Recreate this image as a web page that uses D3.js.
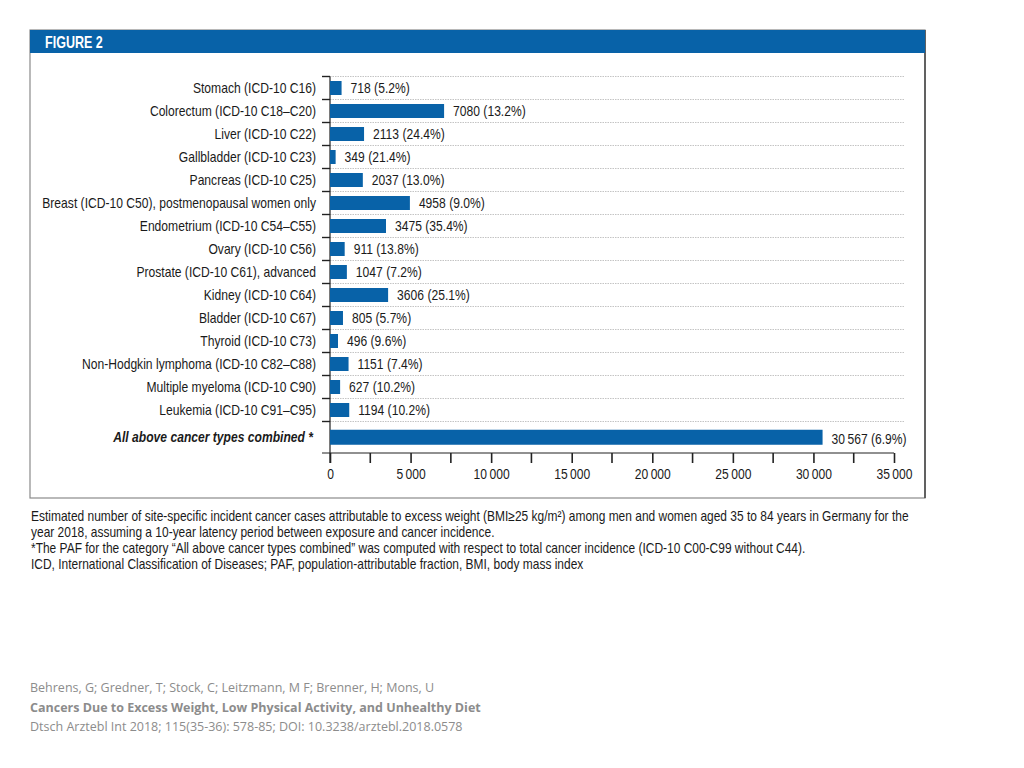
<!DOCTYPE html>
<html>
<head>
<meta charset="utf-8">
<script src="https://cdn.jsdelivr.net/npm/d3@7"></script>
<style>
  html, body { margin: 0; padding: 0; background: #ffffff; }
  svg { display: block; }
</style>
</head>
<body>
<svg id="chart" width="1024" height="768"></svg>
<script>
// ---------------- DATA ----------------
const categories = [
  "Stomach (ICD-10 C16)",
  "Colorectum (ICD-10 C18\u2013C20)",
  "Liver (ICD-10 C22)",
  "Gallbladder (ICD-10 C23)",
  "Pancreas (ICD-10 C25)",
  "Breast (ICD-10 C50), postmenopausal women only",
  "Endometrium (ICD-10 C54\u2013C55)",
  "Ovary (ICD-10 C56)",
  "Prostate (ICD-10 C61), advanced",
  "Kidney (ICD-10 C64)",
  "Bladder (ICD-10 C67)",
  "Thyroid (ICD-10 C73)",
  "Non-Hodgkin lymphoma (ICD-10 C82\u2013C88)",
  "Multiple myeloma (ICD-10 C90)",
  "Leukemia (ICD-10 C91\u2013C95)"
];
const cases = [718, 7080, 2113, 349, 2037, 4958, 3475, 911, 1047, 3606, 805, 496, 1151, 627, 1194];
const paf = ["5.2%", "13.2%", "24.4%", "21.4%", "13.0%", "9.0%", "35.4%", "13.8%", "7.2%", "25.1%", "5.7%", "9.6%", "7.4%", "10.2%", "10.2%"];
const combinedLabel = "All above cancer types combined *";
const combinedCases = [30567];
const combinedPaf = ["6.9%"];
const xTicks = [0, 5000, 10000, 15000, 20000, 25000, 30000, 35000];
const xMinorTicks = [2500, 7500, 12500, 17500, 22500, 27500, 32500];
const figureTitle = "FIGURE 2";
const captionLines = [
  "Estimated number of site-specific incident cancer cases attributable to excess weight (BMI\u226525 kg/m\u00B2) among men and women aged 35 to 84 years in Germany for the",
  "year 2018, assuming a 10-year latency period between exposure and cancer incidence.",
  "*The PAF for the category \u201CAll above cancer types combined\u201D was computed with respect to total cancer incidence (ICD-10 C00-C99 without C44).",
  "ICD, International Classification of Diseases; PAF, population-attributable fraction, BMI, body mass index"
];
const sourceLines = [
  "Behrens, G; Gredner, T; Stock, C; Leitzmann, M F; Brenner, H; Mons, U",
  "Cancers Due to Excess Weight, Low Physical Activity, and Unhealthy Diet",
  "Dtsch Arztebl Int 2018; 115(35-36): 578-85; DOI: 10.3238/arztebl.2018.0578"
];

// ---------------- LAYOUT ----------------
const blue = "#0862a8";
const font = "'Liberation Sans', Arial, sans-serif";
const fs = 14;          // font size
const sx = 0.865;       // horizontal condensing to mimic a narrow face
const ink = "#1a1a1a";
const svg = d3.select("#chart");

const frame = { left: 30, right: 925, top: 30, headerH: 23, bottom: 498 };
const plot = { left: 330, right: 894, top: 76.5, rowsBottom: 421.5, axisY: 453 };

const fmtValue = v => {
  const s = String(v);
  return s.length > 4 ? s.slice(0, s.length - 3) + "\u2009" + s.slice(-3) : s;
};
const fmtAxis = v => {
  const s = String(v);
  return s.length > 3 ? s.slice(0, s.length - 3) + "\u2009" + s.slice(-3) : s;
};
const place = (px, py) => `translate(${px},${py}) scale(${sx},1)`;

// frame
svg.append("rect")
  .attr("x", frame.left).attr("y", frame.top)
  .attr("width", frame.right - frame.left).attr("height", frame.bottom - frame.top)
  .attr("fill", "#fff").attr("stroke", "#8a8a8a").attr("stroke-width", 1.2);
svg.append("line")
  .attr("x1", frame.right).attr("x2", frame.right)
  .attr("y1", frame.top).attr("y2", frame.bottom)
  .attr("stroke", "#444").attr("stroke-width", 1.5);
svg.append("rect")
  .attr("x", frame.left).attr("y", frame.top)
  .attr("width", frame.right - frame.left).attr("height", frame.headerH)
  .attr("fill", blue);
svg.append("text")
  .attr("transform", `translate(45,${frame.top + 18}) scale(0.76,1)`)
  .attr("fill", "#fff").attr("font-family", font)
  .attr("font-weight", "bold").attr("font-size", 16.5)
  .text(figureTitle);

// scales
const x = d3.scaleLinear().domain([0, 35000]).range([plot.left, plot.right]);
const y = d3.scaleBand().domain(d3.range(categories.length))
  .range([plot.top, plot.rowsBottom]).paddingInner(0).paddingOuter(0);
const barH = 14;
const combinedY = (plot.rowsBottom + plot.axisY) / 2;

// dotted gridlines at row boundaries
const boundaries = d3.range(categories.length + 1).map(i => plot.top + i * y.step());
svg.append("g").selectAll("line").data(boundaries).join("line")
  .attr("x1", plot.left).attr("x2", 905)
  .attr("y1", d => d).attr("y2", d => d)
  .attr("stroke", "#b5b5b5").attr("stroke-width", 0.8)
  .attr("stroke-dasharray", "1.5,1");

// y-axis line and ticks
svg.append("line")
  .attr("x1", plot.left).attr("x2", plot.left)
  .attr("y1", plot.top).attr("y2", plot.axisY + 10)
  .attr("stroke", "#222").attr("stroke-width", 1.2);
svg.append("g").selectAll("line").data(boundaries).join("line")
  .attr("x1", plot.left - 8).attr("x2", plot.left)
  .attr("y1", d => d).attr("y2", d => d)
  .attr("stroke", "#222").attr("stroke-width", 1.4);

// bars
svg.append("g").selectAll("rect").data(cases).join("rect")
  .attr("x", x(0)).attr("y", (d, i) => y(i) + y.bandwidth() / 2 - barH / 2)
  .attr("width", d => x(d) - x(0)).attr("height", barH)
  .attr("fill", blue);
svg.append("g").selectAll("rect").data(combinedCases).join("rect")
  .attr("x", x(0)).attr("y", combinedY - 7.5)
  .attr("width", d => x(d) - x(0)).attr("height", 15)
  .attr("fill", blue);

// value labels
svg.append("g").selectAll("text").data(cases).join("text")
  .attr("transform", (d, i) => place(x(d) + 9, y(i) + y.bandwidth() / 2 + 5))
  .attr("font-family", font).attr("font-size", fs).attr("fill", ink)
  .text((d, i) => `${fmtValue(d)} (${paf[i]})`);
svg.append("g").selectAll("text").data(combinedCases).join("text")
  .attr("transform", d => place(x(d) + 9, combinedY + 7))
  .attr("font-family", font).attr("font-size", fs).attr("fill", ink)
  .text((d, i) => `${fmtValue(d)} (${combinedPaf[i]})`);

// category labels
svg.append("g").selectAll("text").data(categories).join("text")
  .attr("transform", (d, i) => place(316, y(i) + y.bandwidth() / 2 + 5))
  .attr("text-anchor", "end")
  .attr("font-family", font).attr("font-size", fs).attr("fill", ink)
  .text(d => d);
svg.append("text")
  .attr("transform", place(313, combinedY + 5))
  .attr("text-anchor", "end")
  .attr("font-family", font).attr("font-size", fs).attr("fill", ink)
  .attr("font-weight", "bold").attr("font-style", "italic")
  .text(combinedLabel);

// x axis
const xAxis = d3.axisBottom(x).tickValues(xTicks).tickFormat(fmtAxis).tickSize(10).tickSizeOuter(0);
const gx = svg.append("g").attr("transform", `translate(0,${plot.axisY})`).call(xAxis);
gx.select(".domain").remove();
gx.selectAll(".tick line").attr("stroke", "#222").attr("stroke-width", 1.6);
gx.selectAll(".tick text").attr("font-family", font).attr("font-size", fs)
  .attr("fill", ink).attr("y", 13).attr("dy", "0.9em")
  .attr("transform", `scale(${sx},1)`);
svg.append("line")
  .attr("x1", plot.left - 8).attr("x2", plot.right)
  .attr("y1", plot.axisY).attr("y2", plot.axisY)
  .attr("stroke", "#222").attr("stroke-width", 1.2);
svg.append("g").selectAll("line").data(xMinorTicks).join("line")
  .attr("x1", d => x(d)).attr("x2", d => x(d))
  .attr("y1", plot.axisY).attr("y2", plot.axisY + 10)
  .attr("stroke", "#222").attr("stroke-width", 1.6);

// caption
svg.append("g").selectAll("text").data(captionLines).join("text")
  .attr("transform", (d, i) => `translate(31,${521 + i * 16}) scale(0.855,1)`)
  .attr("font-family", font).attr("font-size", fs).attr("fill", ink)
  .text(d => d);

// source
svg.append("g").selectAll("text").data(sourceLines).join("text")
  .attr("x", 30).attr("y", (d, i) => 692 + i * 19.5)
  .attr("font-family", "'Open Sans', 'Noto Sans', sans-serif").attr("font-size", 12.5)
  .attr("font-weight", (d, i) => i === 1 ? "bold" : "normal")
  .attr("fill", "#8c8c8c")
  .text(d => d);
</script>
</body>
</html>
